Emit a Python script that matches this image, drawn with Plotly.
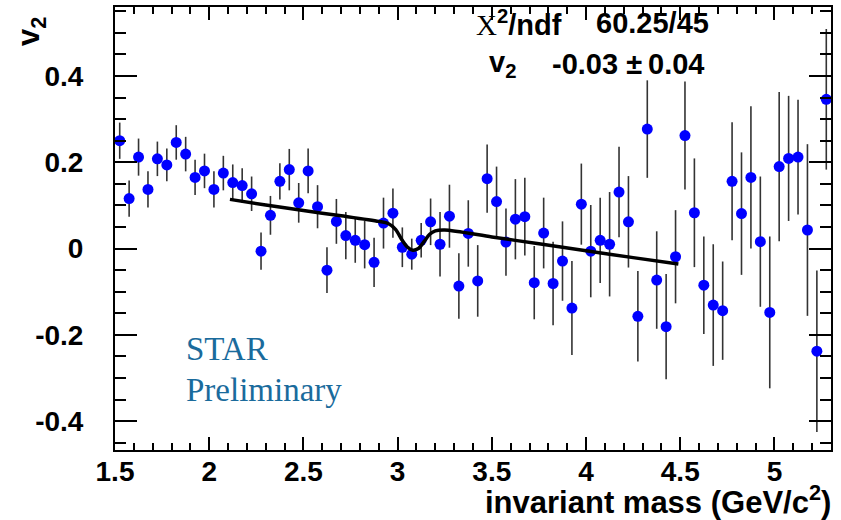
import plotly.graph_objects as go

# ---- data ----
bin_lo = 1.5
bin_w = 0.05
v2 = [0.250, 0.116, 0.212, 0.137, 0.208, 0.194, 0.246, 0.219, 0.165, 0.180,
      0.137, 0.175, 0.153, 0.146, 0.127, -0.006, 0.077, 0.156, 0.183, 0.106,
      0.180, 0.097, -0.050, 0.063, 0.030, 0.019, 0.009, -0.032, 0.059, 0.082,
      0.003, -0.013, 0.019, 0.062, 0.010, 0.075, -0.087, 0.035, -0.075, 0.162,
      0.109, 0.015, 0.068, 0.074, -0.079, 0.036, -0.081, -0.029, -0.138, 0.103,
      -0.006, 0.019, 0.010, 0.131, 0.062, -0.157, 0.277, -0.073, -0.181, -0.019,
      0.262, 0.083, -0.085, -0.131, -0.144, 0.156, 0.081, 0.165, 0.016, -0.148,
      0.190, 0.209, 0.212, 0.043, -0.238, 0.346]
v2_err = [0.042, 0.042, 0.043, 0.042, 0.040, 0.038, 0.040, 0.040, 0.041, 0.040,
          0.042, 0.040, 0.042, 0.040, 0.040, 0.043, 0.045, 0.042, 0.048, 0.046,
          0.052, 0.050, 0.053, 0.052, 0.055, 0.052, 0.055, 0.057, 0.059, 0.057,
          0.046, 0.036, 0.040, 0.054, 0.075, 0.073, 0.076, 0.077, 0.083, 0.079,
          0.081, 0.078, 0.093, 0.090, 0.085, 0.082, 0.097, 0.092, 0.109, 0.094,
          0.107, 0.099, 0.121, 0.105, 0.106, 0.105, 0.113, 0.113, 0.122, 0.108,
          0.125, 0.126, 0.113, 0.141, 0.114, 0.137, 0.142, 0.165, 0.151, 0.176,
          0.173, 0.145, 0.133, 0.199, 0.187, 0.163]
mass = [round(bin_lo + bin_w * (i + 0.5), 4) for i in range(len(v2))]

fit_x = [2.11, 2.3, 2.5, 2.7, 2.9, 2.95, 2.99, 3.02, 3.05, 3.08, 3.11, 3.14,
         3.17, 3.2, 3.25, 3.5, 3.75, 4.0, 4.25, 4.49]
fit_y = [0.114, 0.101, 0.088, 0.076, 0.063, 0.058, 0.044, 0.022, 0.004, -0.004,
         0.000, 0.016, 0.033, 0.041, 0.043, 0.027, 0.011, -0.005, -0.021, -0.036]

x_tickvals = [1.5, 2, 2.5, 3, 3.5, 4, 4.5, 5]
x_ticktext = ["1.5", "2", "2.5", "3", "3.5", "4", "4.5", "5"]
y_tickvals = [-0.4, -0.2, 0, 0.2, 0.4]
y_ticktext = ["-0.4", "-0.2", "0", "0.2", "0.4"]

FONT = "Liberation Sans"

fig = go.Figure()
fig.add_trace(go.Scatter(
    x=mass, y=v2, mode="markers",
    marker=dict(color="#0000ff", size=11, line=dict(width=0)),
    error_y=dict(type="data", array=v2_err, visible=True, color="#333333",
                 thickness=1.6, width=0),
    showlegend=False, cliponaxis=True))
fig.add_trace(go.Scatter(
    x=fit_x, y=fit_y, mode="lines",
    line=dict(color="black", width=3.5, shape="spline", smoothing=0.8),
    showlegend=False))

tickfont = dict(family=FONT, size=28, color="black", weight="bold")
axis_common = dict(showgrid=False, zeroline=False, showline=True, linecolor="black",
                   linewidth=2, mirror="allticks", ticks="inside", tickcolor="black",
                   tickfont=tickfont)

fig.update_xaxes(range=[1.5, 5.3], tickvals=x_tickvals, ticktext=x_ticktext,
                 ticklen=13, tickwidth=1.5, ticklabelstandoff=-5,
                 minor=dict(dtick=0.1, tick0=1.5, ticklen=7, ticks="inside",
                            tickcolor="black", tickwidth=1.5),
                 **axis_common)
fig.update_yaxes(range=[-0.467, 0.56], tickvals=y_tickvals, ticktext=y_ticktext,
                 ticklen=22, tickwidth=1.5, ticklabelstandoff=24,
                 minor=dict(dtick=0.05, tick0=0, ticklen=11, ticks="inside",
                            tickcolor="black", tickwidth=1.5),
                 **axis_common)

L, R, T, B = 115, 10, 5, 70
PW = 841 - L - R
PH = 520 - T - B

def px(xp):
    return (xp - L) / PW

def py(yp):
    return (520 - B - yp) / PH

ann = []
bold = dict(family=FONT, size=29, color="black", weight="bold")
ann.append(dict(text="invariant mass (GeV/c<sup>2</sup>)", x=px(833), y=py(500),
                xanchor="right", yanchor="middle",
                font=dict(family=FONT, size=31, color="black", weight="bold")))
ann.append(dict(text="v<sub>2</sub>", x=px(31), y=py(30), textangle=-90,
                xanchor="center", yanchor="middle",
                font=dict(family=FONT, size=31, color="black", weight="bold")))
ann.append(dict(text="<span style='font-family:Liberation Serif;font-weight:normal'>X</span><sup>2</sup>/ndf",
                x=px(474), y=py(21), xanchor="left", yanchor="middle", font=bold))
ann.append(dict(text="60.25/45", x=px(711), y=py(21), xanchor="right",
                yanchor="middle", font=bold))
ann.append(dict(text="v<sub>2</sub>", x=px(487), y=py(62), xanchor="left",
                yanchor="middle", font=bold))
ann.append(dict(text="-0.03 \u00b1", x=px(644), y=py(62), xanchor="right",
                yanchor="middle", font=bold))
ann.append(dict(text="0.04", x=px(706), y=py(62), xanchor="right",
                yanchor="middle", font=bold))
ann.append(dict(text="STAR", x=px(184), y=py(349), xanchor="left", yanchor="middle",
                font=dict(family="Liberation Serif", size=33, color="#1a6b9c")))
ann.append(dict(text="Preliminary", x=px(184), y=py(390), xanchor="left",
                yanchor="middle",
                font=dict(family="Liberation Serif", size=33, color="#1a6b9c")))
for a in ann:
    a.update(xref="paper", yref="paper", showarrow=False)

fig.update_layout(width=841, height=520, margin=dict(l=L, r=R, t=T, b=B),
                  paper_bgcolor="white", plot_bgcolor="white", annotations=ann)

fig.write_html("out.html")
